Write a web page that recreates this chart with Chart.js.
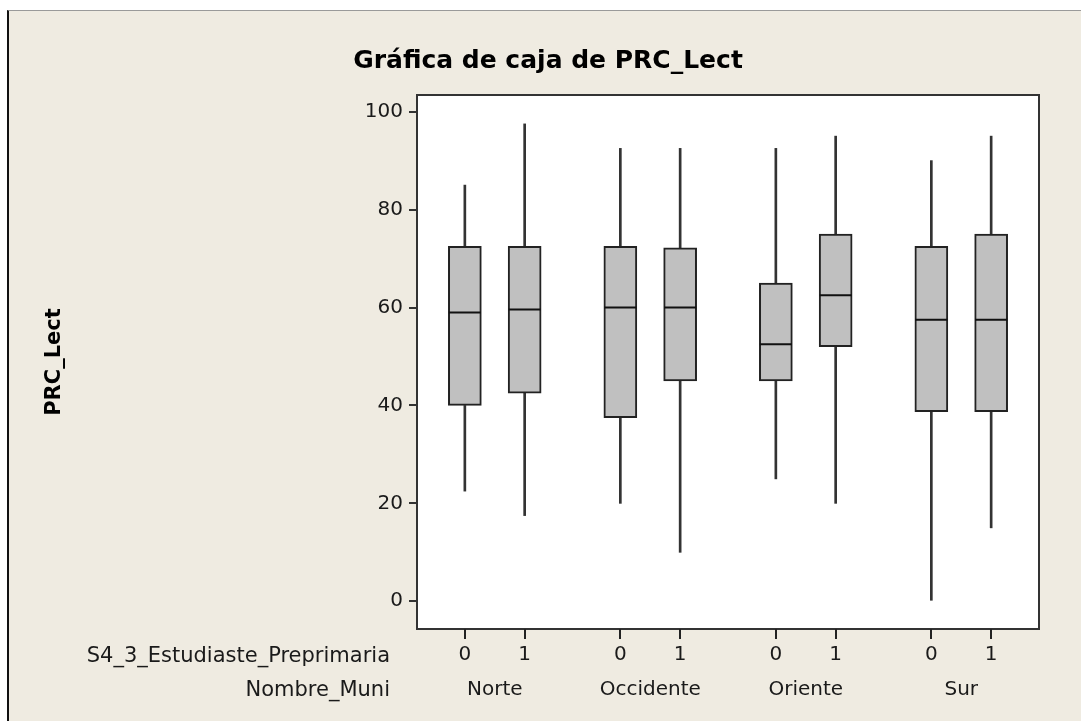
<!DOCTYPE html>
<html><head><meta charset="utf-8">
<script src="https://cdn.jsdelivr.net/npm/chart.js@4"></script>
<style>
html,body{margin:0;padding:0;background:#fff;width:1081px;height:721px;overflow:hidden}
#wrap{position:absolute;left:7px;top:10px;border-left:2px solid #111;border-top:1px solid #9a9a9a;width:1072px;height:710px}
canvas{display:block}
</style></head><body>
<div id="wrap"><canvas id="c" width="1072" height="710"></canvas></div>
<script>
const municipios = ['Norte', 'Occidente', 'Oriente', 'Sur'];
const preprimaria = ['0', '1'];
const whiskerLow  = [22.5, 17.5, 20, 10, 25, 20, 0, 15];
const q1          = [40, 42.5, 37.5, 45, 45, 52, 38.75, 38.75];
const median      = [59, 59.6, 60, 60, 52.5, 62.5, 57.5, 57.5];
const q3          = [72.5, 72.5, 72.5, 72.2, 65, 75, 72.5, 75];
const whiskerHigh = [85, 97.5, 92.5, 92.5, 92.5, 95, 90, 95];
const yTicks = [0, 20, 40, 60, 80, 100];

const FONT = 'DejaVu Sans';
const BEIGE = '#EFEBE1';
const GROUP_STEP = 2.6;
const positions = [];
const xLabels = [];
municipios.forEach((m, g) => preprimaria.forEach((p, k) => { positions.push(g * GROUP_STEP + k); xLabels.push(p); }));
const centers = municipios.map((m, g) => g * GROUP_STEP + 0.5);

const framePlugin = {
  id: 'frame',
  beforeDraw(chart) {
    const {ctx, chartArea: a} = chart;
    ctx.save();
    ctx.fillStyle = BEIGE;
    ctx.fillRect(0, 0, chart.width, chart.height);
    ctx.fillStyle = '#fff';
    ctx.fillRect(a.left, a.top, a.right - a.left, a.bottom - a.top);
    ctx.restore();
  },
  afterDatasetsDraw(chart) {
    const {ctx, chartArea: a} = chart;
    ctx.save();
    ctx.strokeStyle = '#333';
    ctx.lineWidth = 2;
    ctx.strokeRect(a.left, a.top, a.right - a.left, a.bottom - a.top);
    ctx.restore();
  },
  afterDraw(chart) {
    const {ctx, chartArea: a} = chart;
    ctx.save();
    const xs = chart.scales.x;
    ctx.fillStyle = '#222';
    xs.ticks.forEach(t => {
      const px = Math.round(xs.getPixelForValue(t.value));
      ctx.fillRect(px - 1, a.bottom, 2, 10);
    });
    ctx.fillStyle = '#000';
    ctx.textAlign = 'center';
    ctx.textBaseline = 'middle';
    ctx.font = 'bold 25px "' + FONT + '"';
    ctx.fillText('Gráfica de caja de PRC_Lect', chart.width / 2 + 3, 50);
    ctx.fillStyle = '#1a1a1a';
    ctx.textAlign = 'right';
    ctx.font = '21px "' + FONT + '"';
    ctx.fillText('S4_3_Estudiaste_Preprimaria', a.left - 27, a.bottom + 28);
    ctx.fillText('Nombre_Muni', a.left - 27, a.bottom + 62);
    ctx.restore();
  }
};

new Chart(document.getElementById('c'), {
  type: 'bar',
  data: {
    datasets: [
      {
        type: 'line', showLine: false, order: 0,
        data: positions.map((x, i) => ({x, y: median[i]})),
        pointStyle: 'line', pointRadius: 16, pointHoverRadius: 16,
        borderColor: '#111', pointBorderColor: '#111', pointBorderWidth: 2
      },
      {
        type: 'bar', order: 1, grouped: false,
        data: positions.map((x, i) => ({x, y: [q1[i], q3[i]]})),
        backgroundColor: '#C0C0C0', borderColor: '#222', borderWidth: 2,
        borderSkipped: false, barThickness: 33
      },
      {
        type: 'bar', order: 2, grouped: false,
        data: positions.map((x, i) => ({x, y: [whiskerLow[i], q1[i]]})),
        backgroundColor: '#333', borderWidth: 0, barThickness: 2
      },
      {
        type: 'bar', order: 2, grouped: false,
        data: positions.map((x, i) => ({x, y: [q3[i], whiskerHigh[i]]})),
        backgroundColor: '#333', borderWidth: 0, barThickness: 2
      }
    ]
  },
  options: {
    responsive: false,
    animation: false,
    devicePixelRatio: 1,
    events: [],
    layout: {padding: {left: 0, right: 42, top: 84, bottom: 0}},
    plugins: {legend: {display: false}, tooltip: {enabled: false}, title: {display: false}},
    scales: {
      x: {
        type: 'linear', position: 'bottom', min: -0.8, max: 9.6, offset: false, weight: 0,
        grid: {display: true, offset: false, drawOnChartArea: false, drawTicks: true, tickLength: 9, color: '#333', lineWidth: 2},
        border: {display: true, color: '#333', width: 2},
        ticks: {font: {family: FONT, size: 20}, color: '#1a1a1a', padding: 5, autoSkip: false, maxRotation: 0,
          callback: (v, i) => xLabels[i]},
        afterBuildTicks: s => { s.ticks = positions.map(v => ({value: v})); },
        afterFit: s => { s.height = 40; }
      },
      x2: {
        type: 'linear', position: 'bottom', min: -0.8, max: 9.6, offset: false, weight: 1,
        grid: {display: false, offset: false}, border: {display: false},
        ticks: {font: {family: FONT, size: 20}, color: '#1a1a1a', padding: 1, autoSkip: false, maxRotation: 0,
          callback: (v, i) => municipios[i]},
        afterBuildTicks: s => { s.ticks = centers.map(v => ({value: v})); },
        afterFit: s => { s.height = 52; }
      },
      y: {
        type: 'linear', position: 'left', min: -5.66, max: 103.4,
        grid: {display: true, drawOnChartArea: false, drawTicks: true, tickLength: 8, color: '#333', lineWidth: 2},
        border: {display: true, color: '#333', width: 2},
        ticks: {font: {family: FONT, size: 20}, color: '#1a1a1a', padding: 6},
        afterBuildTicks: s => { s.ticks = yTicks.map(v => ({value: v})); },
        title: {display: true, text: 'PRC_Lect', color: '#000', font: {family: FONT, size: 21, weight: 'bold'}, padding: {top: 33, bottom: 0}},
        afterFit: s => { s.width = 408; }
      }
    }
  },
  plugins: [framePlugin]
});
</script>
</body></html>
